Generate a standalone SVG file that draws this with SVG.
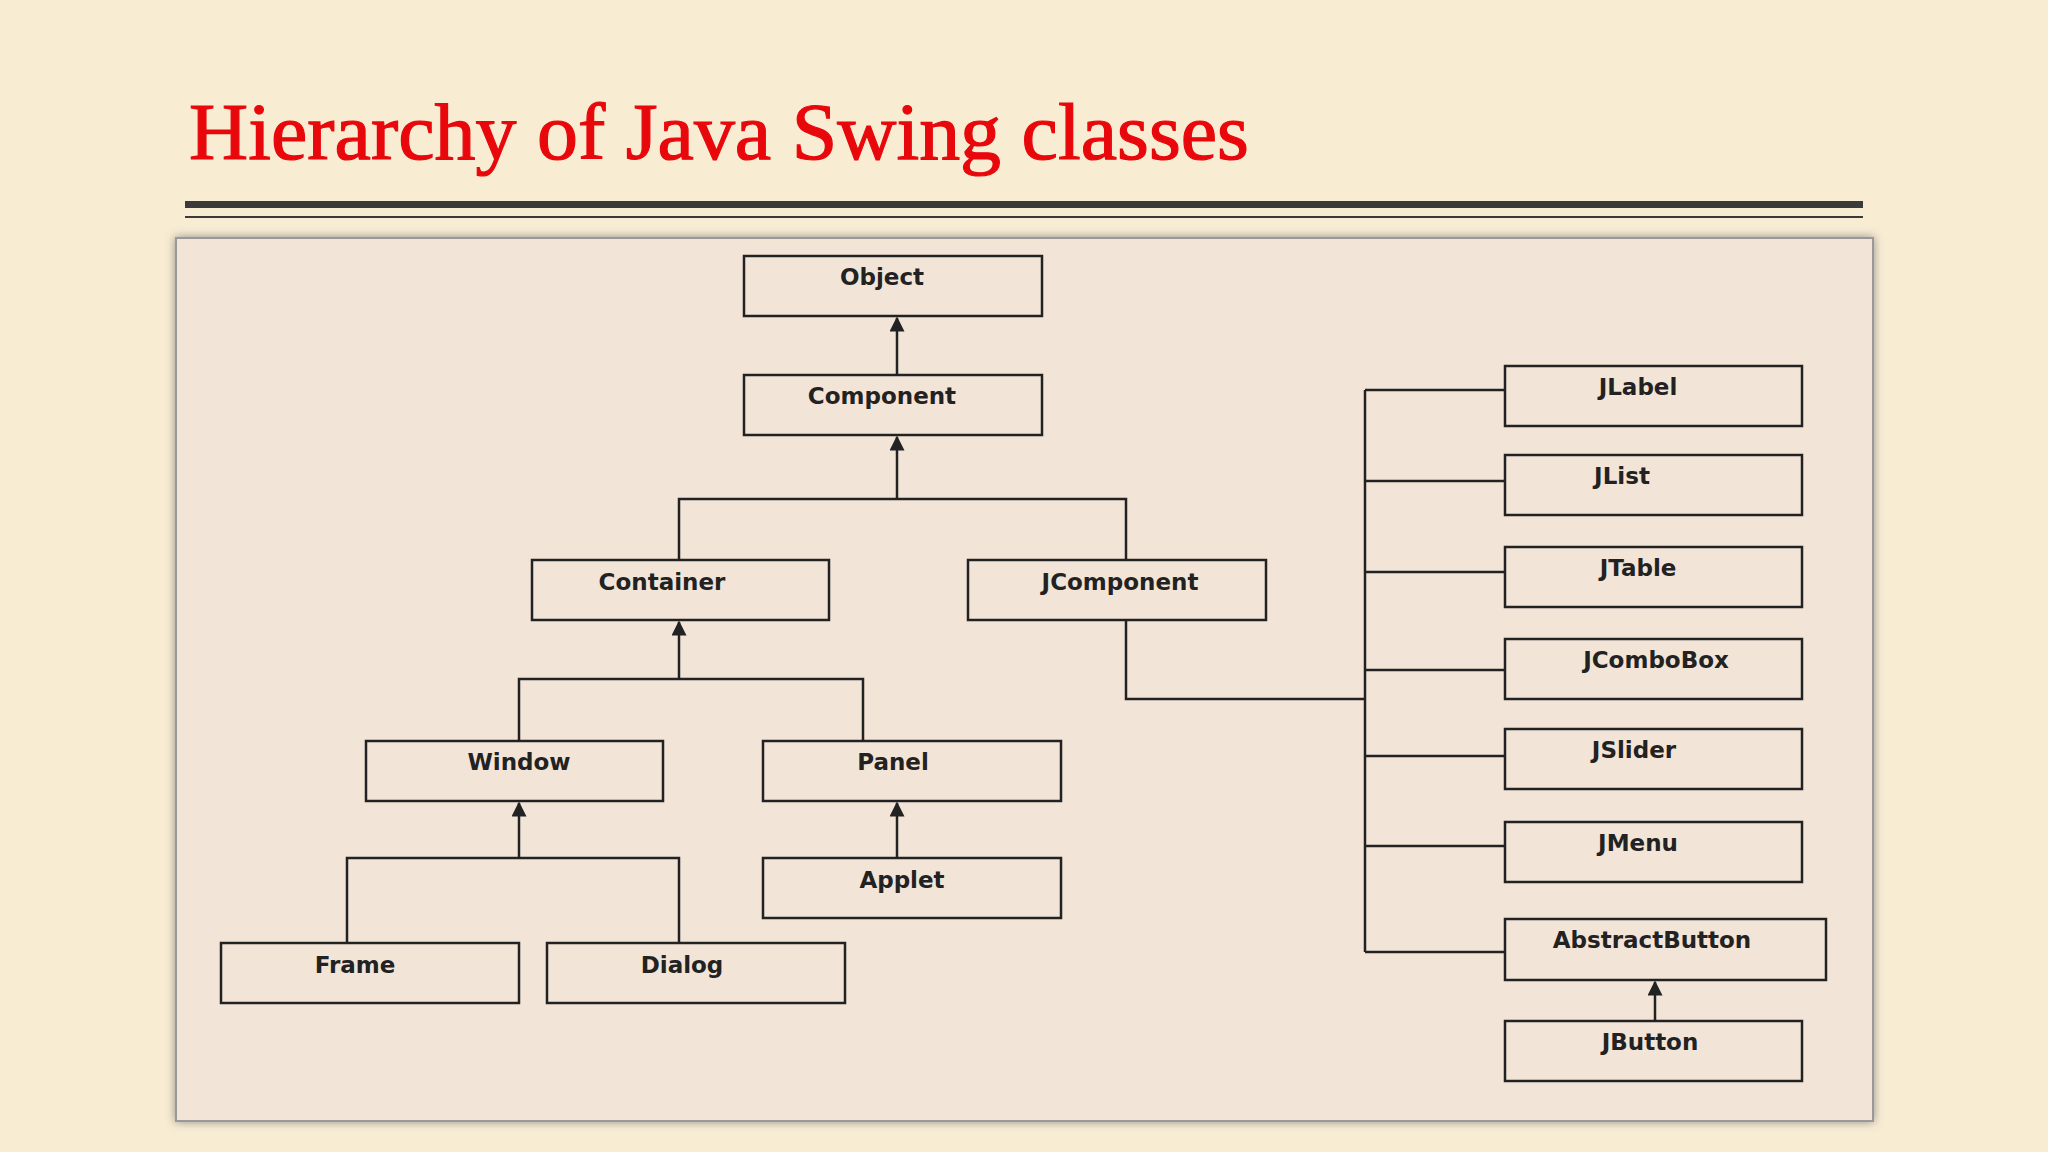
<svg xmlns="http://www.w3.org/2000/svg" width="2048" height="1152" viewBox="0 0 2048 1152">
<defs>
<style>
.b{fill:none;stroke:#222;stroke-width:2.5}
.t{font-family:"DejaVu Sans",sans-serif;font-weight:bold;font-size:23px;fill:#222;text-anchor:middle}
.c{fill:none;stroke:#222;stroke-width:2.5}
</style>
<marker id="a" viewBox="0 0 10 10" refX="9" refY="5" markerWidth="6" markerHeight="6" orient="auto"><path d="M0,0L10,5L0,10z" fill="#222"/></marker>
<filter id="s" x="-5%" y="-5%" width="110%" height="110%"><feDropShadow dx="0" dy="0" stdDeviation="5" flood-color="#777" flood-opacity="0.8"/></filter>
</defs>
<rect width="2048" height="1152" fill="#f8ecd3"/>
<text x="189" y="159" font-family="Liberation Serif,serif" font-size="80" fill="#e8080c" stroke="#e8080c" stroke-width="1.2" textLength="1060" lengthAdjust="spacingAndGlyphs">Hierarchy of Java Swing classes</text>
<rect x="185" y="201" width="1678" height="7" fill="#3a3a3a"/>
<rect x="185" y="216" width="1678" height="2" fill="#3a3a3a"/>
<rect x="176" y="238" width="1697" height="883" fill="#f2e5d8" stroke="#999" stroke-width="2" filter="url(#s)"/>
<g id="connectors">
<path class="c" d="M897 375V318" marker-end="url(#a)"/>
<path class="c" d="M897 499V437" marker-end="url(#a)"/>
<path class="c" d="M679 560V499H1126V560"/>
<path class="c" d="M679 679V622" marker-end="url(#a)"/>
<path class="c" d="M519 741V679H863V741"/>
<path class="c" d="M519 858V803" marker-end="url(#a)"/>
<path class="c" d="M347 943V858H679V943"/>
<path class="c" d="M897 858V803" marker-end="url(#a)"/>
<path class="c" d="M1126 620V699H1365M1365 390V952M1365 390H1505M1365 481H1505M1365 572H1505M1365 670H1505M1365 756H1505M1365 846H1505M1365 952H1505"/>
<path class="c" d="M1655 1021V982" marker-end="url(#a)"/>
</g>
<g id="object"><rect class="b" x="744" y="256" width="298" height="60"/><text class="t" x="882" y="285">Object</text></g>
<g id="component"><rect class="b" x="744" y="375" width="298" height="60"/><text class="t" x="882" y="404">Component</text></g>
<g id="container"><rect class="b" x="532" y="560" width="297" height="60"/><text class="t" x="662" y="590">Container</text></g>
<g id="jcomponent"><rect class="b" x="968" y="560" width="298" height="60"/><text class="t" x="1120" y="590">JComponent</text></g>
<g id="window"><rect class="b" x="366" y="741" width="297" height="60"/><text class="t" x="519" y="770">Window</text></g>
<g id="panel"><rect class="b" x="763" y="741" width="298" height="60"/><text class="t" x="893" y="770">Panel</text></g>
<g id="applet"><rect class="b" x="763" y="858" width="298" height="60"/><text class="t" x="902" y="888">Applet</text></g>
<g id="frame"><rect class="b" x="221" y="943" width="298" height="60"/><text class="t" x="355" y="973">Frame</text></g>
<g id="dialog"><rect class="b" x="547" y="943" width="298" height="60"/><text class="t" x="682" y="973">Dialog</text></g>
<g id="jlabel"><rect class="b" x="1505" y="366" width="297" height="60"/><text class="t" x="1638" y="395">JLabel</text></g>
<g id="jlist"><rect class="b" x="1505" y="455" width="297" height="60"/><text class="t" x="1622" y="484">JList</text></g>
<g id="jtable"><rect class="b" x="1505" y="547" width="297" height="60"/><text class="t" x="1638" y="576">JTable</text></g>
<g id="jcombobox"><rect class="b" x="1505" y="639" width="297" height="60"/><text class="t" x="1656" y="668">JComboBox</text></g>
<g id="jslider"><rect class="b" x="1505" y="729" width="297" height="60"/><text class="t" x="1634" y="758">JSlider</text></g>
<g id="jmenu"><rect class="b" x="1505" y="822" width="297" height="60"/><text class="t" x="1638" y="851">JMenu</text></g>
<g id="abstractbutton"><rect class="b" x="1505" y="919" width="321" height="61"/><text class="t" x="1652" y="948">AbstractButton</text></g>
<g id="jbutton"><rect class="b" x="1505" y="1021" width="297" height="60"/><text class="t" x="1650" y="1050">JButton</text></g>
</svg>
